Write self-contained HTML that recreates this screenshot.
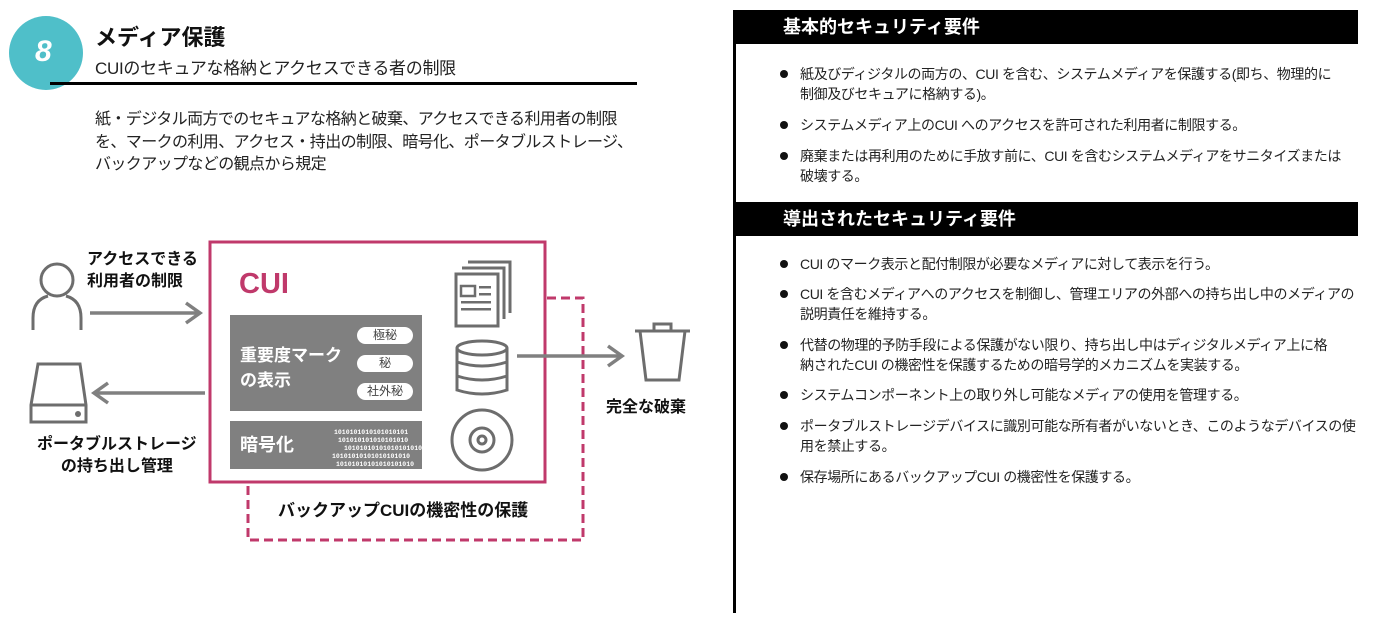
<!DOCTYPE html>
<html><head><meta charset="utf-8"><style>
body{margin:0;width:1381px;height:624px;background:#fff;position:relative;overflow:hidden;font-family:"Liberation Sans","Noto Sans CJK JP",sans-serif;color:#222}
.t{position:absolute;white-space:nowrap;line-height:1}
.b{font-weight:bold}
.bar{position:absolute;left:733px;width:625px;height:34px;background:#000;color:#fff;font-weight:bold;font-size:18px;line-height:34px;padding-left:50px;box-sizing:border-box}
.li{position:absolute;left:800px;font-size:14px;line-height:20px;white-space:nowrap;letter-spacing:-0.4px;color:#222}
.li:before{content:"";position:absolute;left:-20px;top:6px;width:8px;height:8px;border-radius:50%;background:#111}
.pill{position:absolute;left:357px;width:56px;height:17px;background:#fff;border-radius:9px;font-size:12px;line-height:17px;text-align:center;color:#444}
</style></head><body>
<div style="position:absolute;left:9px;top:16px;width:74px;height:74px;border-radius:50%;background:#4fbfc9"></div>
<div class="t b" style="left:35px;top:37px;font-size:30px;color:#fff;font-style:italic">8</div>
<div style="position:absolute;left:50px;top:82px;width:587px;height:3px;background:#000"></div>
<div class="t b" style="left:95px;top:27px;font-size:22px;color:#111">メディア保護</div>
<div class="t" style="left:95px;top:60px;font-size:17px;color:#222;letter-spacing:-0.3px">CUIのセキュアな格納とアクセスできる者の制限</div>
<div class="t" style="left:95px;top:109px;font-size:16px;line-height:22.5px;color:#222;letter-spacing:-0.6px">紙・デジタル両方でのセキュアな格納と破棄、アクセスできる利用者の制限<br>を、マークの利用、アクセス・持出の制限、暗号化、ポータブルストレージ、<br>バックアップなどの観点から規定</div>

<svg style="position:absolute;left:0;top:0" width="730" height="624">
<g fill="none" stroke="#c0396b" stroke-width="3">
<rect x="210" y="242" width="335" height="240"/>
<path d="M547 298 H583 V540 H248 V484" stroke-dasharray="9 5"/>
</g>
<rect x="230" y="315" width="192" height="96" fill="#808080"/>
<rect x="230" y="421" width="192" height="48" fill="#808080"/>
<g fill="none" stroke="#6d6d6d" stroke-width="3">
<circle cx="57" cy="280" r="16"/>
<path d="M33 330 V318 Q33 300 48 296 M81 330 V318 Q81 300 66 296"/>
<path d="M38 364 H80 L86 405 V422 H31 V405 Z M31 405 H86"/>
<path d="M468 262 H510 V313 M462 268 H504 V319 M456 274 H498 V326 H456 Z"/>
<ellipse cx="482" cy="348" rx="25" ry="7"/>
<path d="M457 348 V390 Q482 398 507 390 V348 M457 362 Q482 370 507 362 M457 376 Q482 384 507 376"/>
<circle cx="482" cy="440" r="30"/><circle cx="482" cy="440" r="12"/><circle cx="482" cy="440" r="4"/>
<path d="M635 331 H690 M640 331 L646 380 H679 L685 331 M654 331 V324 H671 V331"/>
</g>
<g fill="#6d6d6d" stroke="none">
<rect x="461" y="286" width="14" height="10" fill="none" stroke="#6d6d6d" stroke-width="2.5"/>
<rect x="479" y="286" width="12" height="2.5"/><rect x="479" y="293" width="12" height="2.5"/><rect x="461" y="301" width="30" height="2.5"/><rect x="461" y="308" width="30" height="2.5"/>
<circle cx="78" cy="414" r="3"/>
</g>
<g stroke="#808080" stroke-width="3.5" fill="none">
<path d="M90 313 H200 M186 303 L200 313 L186 323"/>
<path d="M205 393 H94 M108 383 L94 393 L108 403"/>
<path d="M517 356 H622 M608 346 L622 356 L608 366"/>
</g>
<g font-size="6.5" fill="#fff" font-family="Liberation Mono,monospace" font-weight="bold">
<text x="334" y="434">1010101010101010101</text>
<text x="338" y="442">101010101010101010</text>
<text x="344" y="450">10101010101010101010</text>
<text x="332" y="458">10101010101010101010</text>
<text x="336" y="466">10101010101010101010</text>
</g>
</svg>
<div class="t b" style="left:239px;top:270px;font-size:29px;color:#c0396b">CUI</div>
<div class="t b" style="left:240px;top:343px;font-size:17px;line-height:25px;color:#fff">重要度マーク<br>の表示</div>
<div class="pill" style="top:327px">極秘</div>
<div class="pill" style="top:355px">秘</div>
<div class="pill" style="top:383px">社外秘</div>
<div class="t b" style="left:240px;top:436px;font-size:18px;color:#fff">暗号化</div>
<div class="t b" style="left:87px;top:249px;font-size:16px;line-height:22px;color:#111">アクセスできる<br>利用者の制限</div>
<div class="t b" style="left:37px;top:434px;font-size:16px;line-height:22px;color:#111;text-align:center">ポータブルストレージ<br>の持ち出し管理</div>
<div class="t b" style="left:606px;top:400px;font-size:16px;color:#111">完全な破棄</div>
<div class="t b" style="left:278px;top:502px;font-size:17px;color:#111">バックアップCUIの機密性の保護</div>

<div style="position:absolute;left:733px;top:10px;width:3px;height:603px;background:#000"></div>
<div class="bar" style="top:10px">基本的セキュリティ要件</div>
<div class="bar" style="top:202px">導出されたセキュリティ要件</div>
<div class="li" style="top:64px">紙及びディジタルの両方の、CUI を含む、システムメディアを保護する(即ち、物理的に<br>制御及びセキュアに格納する)。</div>
<div class="li" style="top:115px">システムメディア上のCUI へのアクセスを許可された利用者に制限する。</div>
<div class="li" style="top:146px">廃棄または再利用のために手放す前に、CUI を含むシステムメディアをサニタイズまたは<br>破壊する。</div>
<div class="li" style="top:254px">CUI のマーク表示と配付制限が必要なメディアに対して表示を行う。</div>
<div class="li" style="top:284px">CUI を含むメディアへのアクセスを制御し、管理エリアの外部への持ち出し中のメディアの<br>説明責任を維持する。</div>
<div class="li" style="top:335px">代替の物理的予防手段による保護がない限り、持ち出し中はディジタルメディア上に格<br>納されたCUI の機密性を保護するための暗号学的メカニズムを実装する。</div>
<div class="li" style="top:385px">システムコンポーネント上の取り外し可能なメディアの使用を管理する。</div>
<div class="li" style="top:416px">ポータブルストレージデバイスに識別可能な所有者がいないとき、このようなデバイスの使<br>用を禁止する。</div>
<div class="li" style="top:467px">保存場所にあるバックアップCUI の機密性を保護する。</div>
</body></html>
